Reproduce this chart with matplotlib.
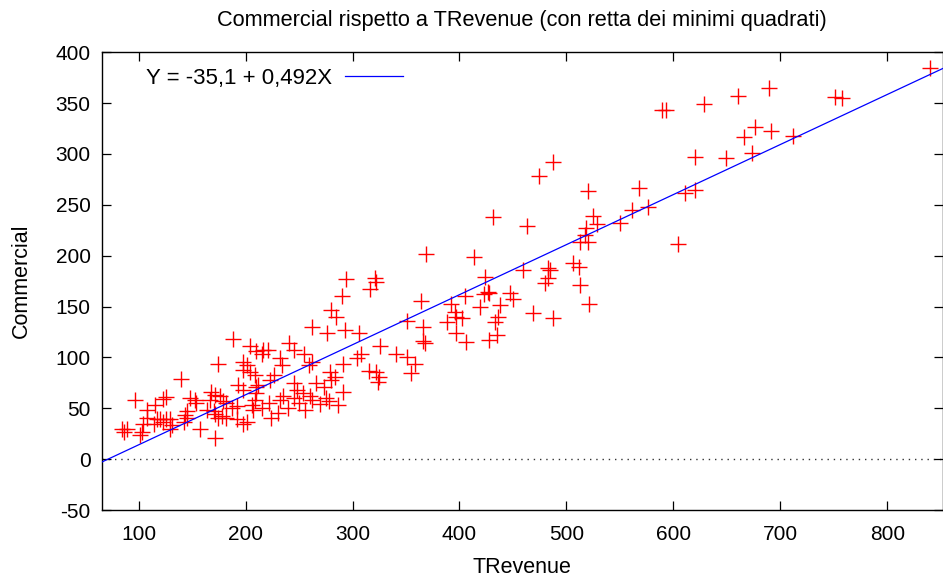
import matplotlib
matplotlib.use("Agg")
import matplotlib.pyplot as plt
import numpy as np

plt.rcParams['font.family'] = ['Liberation Sans', 'DejaVu Sans']
plt.rcParams['axes.unicode_minus'] = False

# OLS coefficients shown in the legend
intercept = -35.1
slope = 0.492
fit_label = "Y = -35,1 + 0,492X"

# TRevenue / Commercial pairs
trevenue = [
    840, 629, 660, 689, 751, 758, 676, 691, 666, 712, 674, 649, 620,
    589, 593, 520, 568, 611, 620, 525, 529, 518, 561, 576, 550, 604, 513, 520, 517,
    487, 474, 431, 463,
    459, 483, 485, 480, 483, 506, 512, 513, 521,
    447, 450, 438, 428, 469, 487, 436,
    369, 414, 424, 427, 423, 405, 419, 392, 396, 397, 402, 388, 433, 397, 406, 428, 435,
    364, 351, 366, 366, 368, 326, 341, 351, 358, 355, 322, 325, 324, 315, 308, 304, 291,
    294, 321, 322, 316, 290, 293, 306, 291,
    280, 285, 262, 276, 241, 245, 216, 221, 215, 232, 234, 255, 262, 259,
    279, 284, 280, 273, 266, 245, 248, 254, 235, 223, 227, 209, 210,
    188, 204, 210, 174, 198, 201, 204, 198, 140, 193, 198, 212, 210, 209, 206, 207,
    97, 115, 123, 126, 148, 153, 154, 168, 171, 167, 176, 179, 182, 187, 192, 164,
    170, 171, 174, 178, 182, 192, 198, 145, 143, 145, 108, 104, 114, 120, 123, 126,
    129, 131, 84, 89, 86, 101, 103, 129, 142, 157, 171, 201, 108, 117,
    215, 222, 230, 240, 250, 256, 262, 270, 278, 286, 224, 245, 232, 260, 275,
]
commercial = [
    385, 349, 357, 365, 356, 355, 327, 323, 317, 318, 301, 296, 297,
    343, 343, 264, 267, 262, 265, 239, 231, 227, 245, 248, 232, 212, 213, 213, 220,
    292, 278, 238, 229,
    186, 188, 186, 173, 178, 193, 189, 171, 153,
    163, 157, 152, 163, 144, 139, 140,
    202, 199, 179, 164, 162, 160, 150, 153, 145, 140, 139, 135, 135, 124, 115, 117, 122,
    155, 136, 130, 116, 114, 111, 103, 100, 94, 85, 86, 81, 76, 87, 103, 99, 94,
    177, 178, 174, 167, 160, 127, 124, 66,
    147, 140, 130, 124, 114, 107, 107, 107, 103, 99, 93, 103, 96, 93,
    86, 81, 78, 71, 75, 75, 68, 65, 62, 78, 83, 83, 71,
    118, 111, 106, 94, 96, 93, 86, 88, 79, 73, 68, 73, 65, 58, 53, 48,
    58, 53, 59, 61, 60, 58, 55, 66, 63, 58, 62, 57, 55, 50, 52, 48,
    47, 44, 40, 42, 40, 39, 35, 47, 43, 40, 40, 35, 35, 39, 37, 39,
    39, 34, 30, 30, 27, 24, 27, 30, 37, 30, 21, 37, 48, 39,
    50, 55, 45, 50, 55, 48, 58, 54, 57, 53, 40, 60, 58, 62, 60,
]

x_ticks = [100, 200, 300, 400, 500, 600, 700, 800]
y_ticks = [-50, 0, 50, 100, 150, 200, 250, 300, 350, 400]

fig = plt.figure(figsize=(9.43, 5.77), dpi=100)
ax = fig.add_axes([0.1078, 0.1161, 0.8917, 0.7933])

ax.plot(trevenue, commercial, linestyle='none', marker='+', color='#ff0000',
        markersize=11, markeredgewidth=1.0, zorder=3)

xlo, xhi = 65.4, 851.7
xx = np.array([xlo, xhi])
ax.plot(xx, intercept + slope * xx, color='#0000ff', lw=0.9, label=fit_label, zorder=4)
ax.axhline(0, color='#333333', lw=1.0, linestyle=(0, (1, 3.5)), zorder=1)

ax.set_xlim(xlo, xhi)
ax.set_ylim(-50, 400)
ax.set_xticks(x_ticks)
ax.set_yticks(y_ticks)
ax.tick_params(direction='in', length=6.5, width=0.9, top=True, right=True,
               labelsize=15)
ax.tick_params(axis='x', pad=11)
ax.tick_params(axis='y', pad=8)
for sp in ax.spines.values():
    sp.set_linewidth(1.0)

ax.set_xlabel("TRevenue", fontsize=15.5, labelpad=9)
ax.set_ylabel("Commercial", fontsize=15.5, labelpad=17)
ax.set_title("Commercial rispetto a TRevenue (con retta dei minimi quadrati)",
             fontsize=15.7, pad=19)

ax.legend(loc='upper left', frameon=False, markerfirst=False, fontsize=16,
          handlelength=2.6, handletextpad=0.6, borderaxespad=0.3,
          bbox_to_anchor=(0.034, 1.0))

fig.savefig("out.png", dpi=100)
